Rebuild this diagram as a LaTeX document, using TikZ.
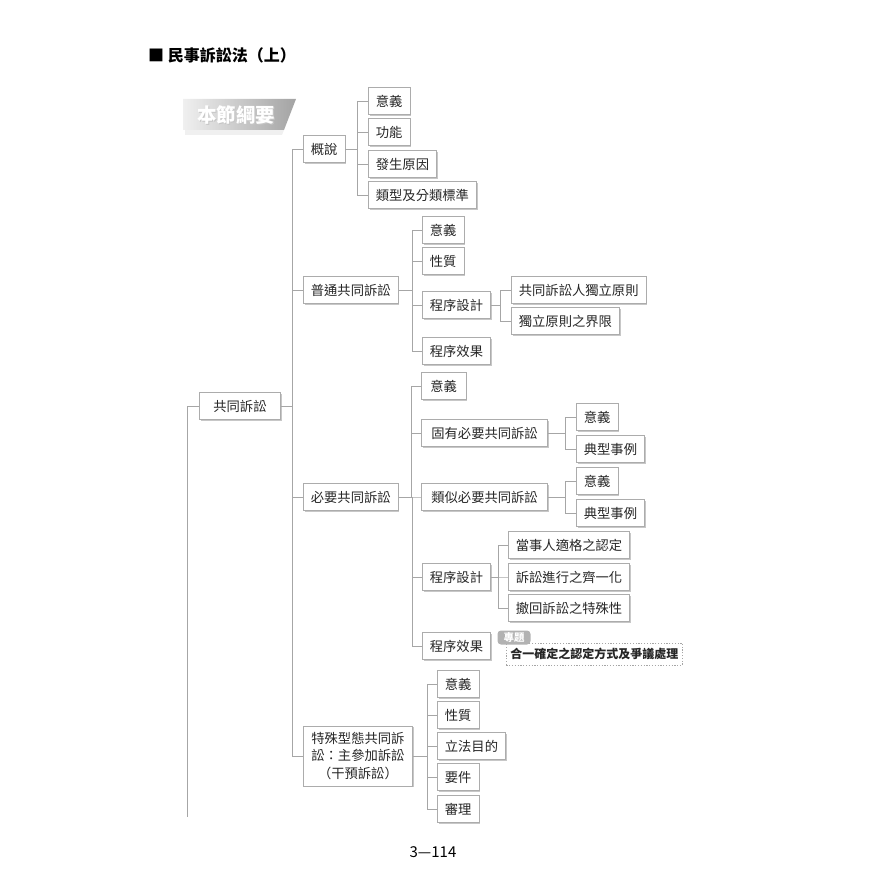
\documentclass[tikz,border=0pt]{standalone}
\usepackage{fontspec}
\setmainfont{Noto Sans CJK TC}
\usetikzlibrary{shadows}
\begin{document}
\begin{tikzpicture}[x=1pt,y=-1pt,
  bx/.style={draw=gray!65, line width=0.7pt, fill=white, inner xsep=7.5pt, inner ysep=0pt,
    minimum height=27pt, font=\fontsize{13.3}{16}\selectfont, text=black!85, anchor=west,
    drop shadow={shadow xshift=1.2pt, shadow yshift=-1.2pt, opacity=0.22, fill=black}},
  ln/.style={draw=gray!70, line width=0.7pt},
  tag/.style={fill=gray!60, rounded corners=3.5pt, text=white, font=\fontsize{10.5}{11}\selectfont\bfseries, inner xsep=6pt, inner ysep=1pt, minimum height=14pt},
  note/.style={draw=gray!70, dash pattern=on 1.2pt off 1.6pt, line width=0.6pt, fill=white, anchor=west,
    font=\fontsize{12}{14}\selectfont\bfseries, text=black!85, inner xsep=4pt, inner ysep=0pt, minimum height=22pt}]
\useasboundingbox (0,0) rectangle (896,896);

% title
\node[anchor=west, font=\fontsize{16}{19}\selectfont\bfseries, inner sep=0pt] (title) at (148,55) {■ 民事訴訟法（上）};

% badge
\fill[gray!12] (185,130) -- (284,130) -- (282,135) -- (185,135) -- cycle;
\shade[left color=gray!12, right color=gray!72] (183,99) -- (296,99) -- (284,130) -- (183,130) -- cycle;
\node[font=\fontsize{19.5}{20}\selectfont\bfseries, text=gray!45, inner sep=0pt] at (237.2,116.2) {本節綱要};
\node[font=\fontsize{19.5}{20}\selectfont\bfseries, text=white, inner sep=0pt] (badge) at (236,115) {本節綱要};

% root
\node[bx, inner xsep=14pt] (root) at (199,406) {共同訴訟};
\coordinate (tail) at (187,817);
\draw[ln] (root.west) -| (tail);

% level 2
\node[bx] (a) at (303,149) {概說};
\node[bx] (b) at (303,290) {普通共同訴訟};
\node[bx] (c) at (303,497) {必要共同訴訟};
\node[bx, align=center, minimum height=60pt, inner xsep=8pt, font=\fontsize{13.3}{17.5}\selectfont] (d) at (303,756) {特殊型態共同訴\\訟：主參加訴訟\\（干預訴訟）};
\foreach \n in {a,b,c,d} \draw[ln] (\n.west) -- ++(-11,0) |- (root.east);

% 概說
\node[bx] (a1) at (368,101) {意義};
\node[bx] (a2) at (368,132) {功能};
\node[bx] (a3) at (368,164) {發生原因};
\node[bx] (a4) at (368,195) {類型及分類標準};
\foreach \n in {a1,a2,a3,a4} \draw[ln] (\n.west) -- ++(-11,0) |- (a.east);

% 普通共同訴訟
\node[bx] (b1) at (422,230) {意義};
\node[bx] (b2) at (422,261) {性質};
\node[bx] (b3) at (422,305) {程序設計};
\node[bx] (b4) at (422,351) {程序效果};
\foreach \n in {b1,b2,b3,b4} \draw[ln] (\n.west) -- ++(-10,0) |- (b.east);
\node[bx] (b31) at (511,290) {共同訴訟人獨立原則};
\node[bx] (b32) at (511,321) {獨立原則之界限};
\foreach \n in {b31,b32} \draw[ln] (\n.west) -- ++(-11,0) |- (b3.east);

% 必要共同訴訟
\node[bx, inner xsep=9pt] (c1) at (421,386) {意義};
\node[bx, inner xsep=10pt] (c2) at (421,433) {固有必要共同訴訟};
\node[bx, inner xsep=10pt] (c3) at (421,497) {類似必要共同訴訟};
\node[bx] (c4) at (422,577) {程序設計};
\node[bx] (c5) at (422,646) {程序效果};
\foreach \n in {c1,c2,c3,c4,c5} \draw[ln] (\n.west) -- ++(-10,0) |- (c.east);
\node[bx] (c21) at (576,417) {意義};
\node[bx] (c22) at (576,449) {典型事例};
\foreach \n in {c21,c22} \draw[ln] (\n.west) -- ++(-11,0) |- (c2.east);
\node[bx] (c31) at (576,481) {意義};
\node[bx] (c32) at (576,513) {典型事例};
\foreach \n in {c31,c32} \draw[ln] (\n.west) -- ++(-11,0) |- (c3.east);
\node[bx] (c41) at (508,545) {當事人適格之認定};
\node[bx] (c42) at (508,577) {訴訟進行之齊一化};
\node[bx] (c43) at (508,608) {撤回訴訟之特殊性};
\foreach \n in {c41,c42,c43} \draw[ln] (\n.west) -- ++(-10,0) |- (c4.east);

% note
\node[note] (nt) at (506,654) {合一確定之認定方式及爭議處理};
\node[tag] (tg) at (514,637.5) {專題};

% 特殊型態
\node[bx] (d1) at (437,684) {意義};
\node[bx] (d2) at (437,715) {性質};
\node[bx] (d3) at (437,746) {立法目的};
\node[bx] (d4) at (437,777) {要件};
\node[bx] (d5) at (437,809) {審理};
\foreach \n in {d1,d2,d3,d4,d5} \draw[ln] (\n.west) -- ++(-10,0) |- (d.east);

% page number
\node[font=\fontsize{15}{18}\selectfont, inner sep=0pt] (pg) at (433,852) {3—114};
\end{tikzpicture}
\end{document}
